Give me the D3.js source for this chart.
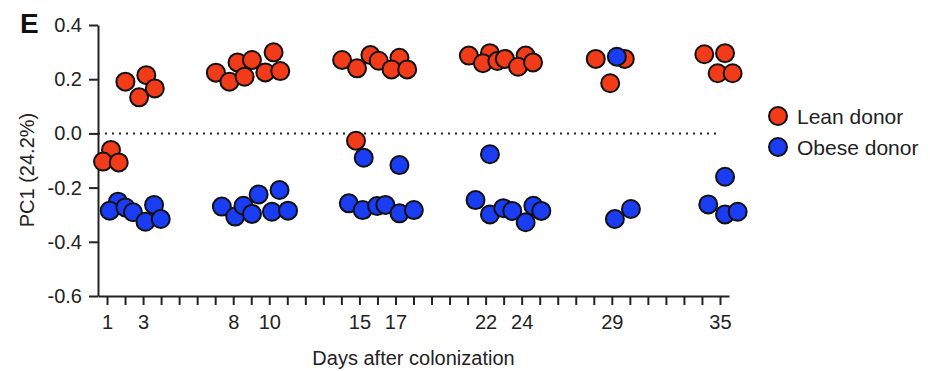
<!DOCTYPE html>
<html>
<head>
<meta charset="utf-8">
<script src="https://cdn.jsdelivr.net/npm/d3@7"></script>
<style>
  body { margin: 0; background: #fff; }
  svg { display: block; font-family: "Liberation Sans", Arial, sans-serif; }
</style>
</head>
<body>
<svg id="chart" width="930" height="371"></svg>
<script>
// jittered day position and PC1 score of each sample
const leanDay = [2.02, 3.18, 3.65, 2.78, 1.22, 0.78, 1.65,
  7.04, 7.79, 8.24, 8.63, 9.04, 10.24, 9.78, 10.61,
  14.04, 14.87, 15.61, 16.07, 17.22, 16.78, 17.65, 14.81,
  21.07, 22.24, 21.85, 22.65, 23.07, 24.22, 23.80, 24.63,
  28.11, 28.91, 29.72,
  34.13, 35.28, 34.87, 35.70];
const leanPC1 = [0.191, 0.215, 0.166, 0.133, -0.061, -0.104, -0.107,
  0.224, 0.191, 0.262, 0.209, 0.271, 0.299, 0.225, 0.230,
  0.271, 0.240, 0.289, 0.268, 0.279, 0.236, 0.236, -0.027,
  0.287, 0.296, 0.259, 0.267, 0.275, 0.287, 0.246, 0.262,
  0.275, 0.185, 0.275,
  0.292, 0.296, 0.222, 0.222];
const obeseDay = [1.61, 1.15, 2.02, 2.44, 3.61, 3.13, 3.98,
  7.37, 8.11, 8.57, 9.04, 9.41, 10.15, 10.57, 11.04,
  15.24, 17.22, 14.41, 15.18, 15.98, 16.44, 17.22, 18.02,
  22.24, 21.44, 22.24, 22.98, 23.48, 24.22, 24.65, 25.09,
  29.28, 29.17, 30.06,
  35.28, 34.35, 35.28, 35.98];
const obesePC1 = [-0.252, -0.285, -0.273, -0.291, -0.264, -0.326, -0.316,
  -0.270, -0.307, -0.267, -0.297, -0.225, -0.289, -0.209, -0.285,
  -0.090, -0.117, -0.258, -0.283, -0.268, -0.264, -0.295, -0.283,
  -0.077, -0.246, -0.299, -0.276, -0.286, -0.328, -0.267, -0.286,
  0.283, -0.316, -0.279,
  -0.160, -0.262, -0.299, -0.289];

const dayTicks = d3.range(1, 36);
const dayLabels = [1, 3, 8, 10, 15, 17, 22, 24, 29, 35];
const pcTicks = [-0.6, -0.4, -0.2, 0.0, 0.2, 0.4];
const groups = ["Lean donor", "Obese donor"];

const red = "#f23b19";
const blue = "#1a3cf2";
const ink = "#222";

const svg = d3.select("#chart");

let x = d3.scaleLinear()
    .domain([0.5, 35.5])
    .range([98, 729]);

let y = d3.scaleLinear()
    .domain([-0.6, 0.4])
    .range([296, 25]);

// axes
let yAxis = svg.append("g")
    .attr("transform", "translate(" + x.range()[0] + ",0)")
    .call(d3.axisLeft(y).tickValues(pcTicks).tickSize(9).tickSizeOuter(0).tickPadding(7)
        .tickFormat(d => d.toFixed(1)));
let xAxis = svg.append("g")
    .attr("transform", "translate(0," + y.range()[0] + ")")
    .call(d3.axisBottom(x).tickValues(dayTicks).tickSize(9).tickSizeOuter(0).tickPadding(10)
        .tickFormat(d => dayLabels.includes(d) ? d : ""));

[xAxis, yAxis].forEach(g => {
    g.selectAll("path, line").attr("stroke", ink).attr("stroke-width", 2);
    g.selectAll("text").attr("fill", ink).style("font-size", "20px");
});

// zero reference line
svg.append("line")
    .attr("x1", x(0.5))
    .attr("x2", x(35))
    .attr("y1", y(0))
    .attr("y2", y(0))
    .attr("stroke", ink)
    .attr("stroke-width", 2)
    .attr("stroke-dasharray", "2,5");

// points
function drawPoints(days, vals, color) {
    svg.append("g").selectAll("circle")
        .data(days.map((d, i) => [d, vals[i]]))
        .join("circle")
        .attr("cx", d => x(d[0]))
        .attr("cy", d => y(d[1]))
        .attr("r", 9)
        .attr("fill", color)
        .attr("stroke", "#111")
        .attr("stroke-width", 2);
}
drawPoints(leanDay, leanPC1, red);
drawPoints(obeseDay, obesePC1, blue);

// titles
svg.append("text")
    .attr("x", 20)
    .attr("y", 33)
    .attr("fill", "#111")
    .style("font-size", "28px")
    .style("font-weight", "bold")
    .text("E");

svg.append("text")
    .attr("transform", "translate(27,170) rotate(-90)")
    .attr("text-anchor", "middle")
    .attr("dominant-baseline", "central")
    .attr("fill", ink)
    .style("font-size", "20px")
    .text("PC1 (24.2%)");

svg.append("text")
    .attr("x", (x.range()[0] + x.range()[1]) / 2)
    .attr("y", 365)
    .attr("text-anchor", "middle")
    .attr("fill", ink)
    .style("font-size", "20px")
    .text("Days after colonization");

// legend
let legend = svg.append("g").selectAll("g")
    .data(groups)
    .join("g")
    .attr("transform", (d, i) => "translate(778," + (116 + i * 31) + ")");
legend.append("circle")
    .attr("r", 9)
    .attr("fill", (d, i) => i === 0 ? red : blue)
    .attr("stroke", "#111")
    .attr("stroke-width", 2);
legend.append("text")
    .attr("x", 19)
    .attr("dominant-baseline", "central")
    .attr("fill", ink)
    .style("font-size", "21px")
    .text(d => d);
</script>
</body>
</html>
